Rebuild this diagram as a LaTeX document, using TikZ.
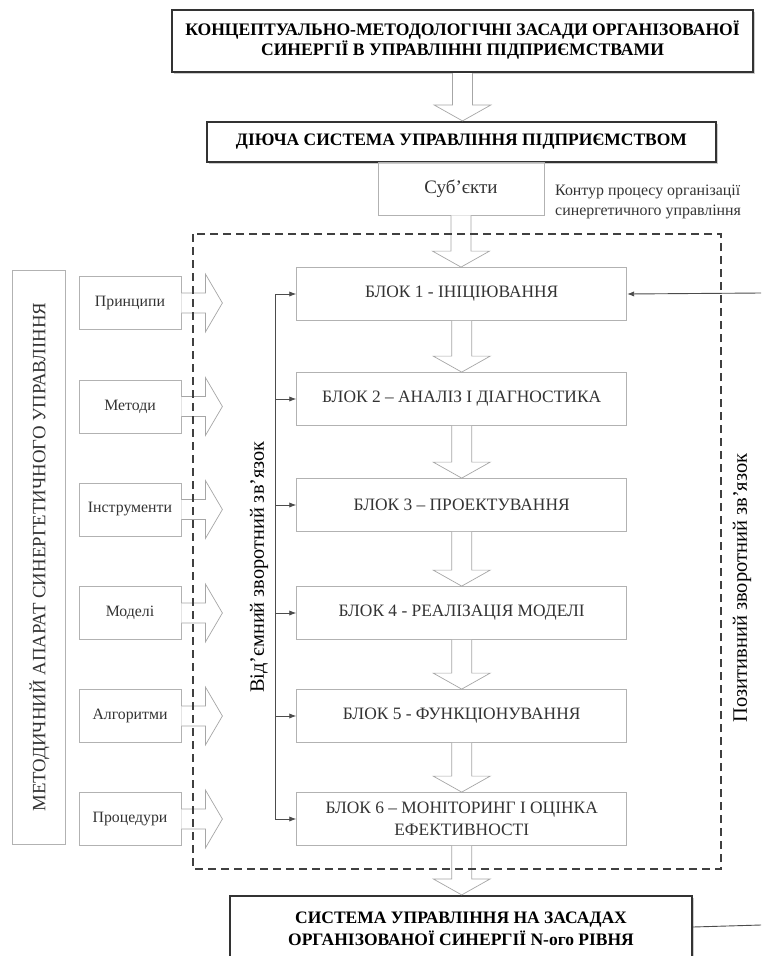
\documentclass[tikz,border=0pt]{standalone}
\usepackage{fontspec}
\setmainfont{Liberation Serif}
\usepackage{xcolor}
\usepackage{tikz}
\usetikzlibrary{arrows.meta,calc,shadows}

% hollow block arrows between boxes
\newcommand{\hdown}[2]{%
  \draw[harrow] let \p1=(#1.south), \p2=(#2.north) in
    (\x1-10pt,\y1) -- (\x1-10pt,\y2+16pt) -- (\x1-28.5pt,\y2+16pt) -- (\x1,\y2)
    -- (\x1+28.5pt,\y2+16pt) -- (\x1+10pt,\y2+16pt) -- (\x1+10pt,\y1);}
\newcommand{\hright}[1]{%
  \draw[harrow] let \p1=(#1.east) in
    (\x1,\y1+10pt) -- (\x1+24pt,\y1+10pt) -- (\x1+24pt,\y1+29pt) -- (\x1+41pt,\y1)
    -- (\x1+24pt,\y1-29pt) -- (\x1+24pt,\y1-10pt) -- (\x1,\y1-10pt);}

\begin{document}
\begin{tikzpicture}[x=1pt,y=-1pt,>=Latex,
  hdr/.style={draw=black!80,line width=2.2pt,fill=white,inner sep=0pt,align=center,
    font=\bfseries\fontsize{17.6}{20.5}\selectfont,
    drop shadow={shadow xshift=2pt,shadow yshift=-2pt,fill=black!20,opacity=1}},
  blk/.style={draw=black!30,line width=0.8pt,fill=white,minimum width=330pt,minimum height=53pt,
    inner sep=0pt,align=center,text=black!80,font=\fontsize{17.4}{22}\selectfont},
  src/.style={draw=black!30,line width=0.8pt,minimum width=102pt,minimum height=53pt,
    inner sep=0pt,text=black!80,font=\fontsize{15.8}{18}\selectfont},
  harrow/.style={draw=black!35,line width=0.7pt,fill=white},
  fb/.style={draw=black!70,line width=0.9pt},
  contour/.style={draw=black!75,line width=1.8pt,dash pattern=on 8pt off 5pt}]
  \useasboundingbox (0,0) rectangle (761,956);

  % top of the scheme
  \node[hdr,minimum width=581pt,minimum height=62pt,text depth=6pt] (cm) at (462.5,41)
    {КОНЦЕПТУАЛЬНО-МЕТОДОЛОГІЧНІ ЗАСАДИ ОРГАНІЗОВАНОЇ\\СИНЕРГІЇ В УПРАВЛІННІ ПІДПРИЄМСТВАМИ};
  \node[hdr,minimum width=509pt,minimum height=40pt,font=\bfseries\fontsize{17.5}{20}\selectfont]
    (ds) at (461.5,142) {ДІЮЧА СИСТЕМА УПРАВЛІННЯ ПІДПРИЄМСТВОМ};
  \node[src,minimum width=166pt,font=\fontsize{19}{20}\selectfont] (sb) at (461,188.5) {Суб’єкти};
  \hdown{cm}{ds}

  % blocks of the process
  \node[blk] (b1) at (461.7,294) {БЛОК 1 - ІНІЦІЮВАННЯ};
  \node[blk] (b2) at (461.7,399) {БЛОК 2 – АНАЛІЗ І ДІАГНОСТИКА};
  \node[blk] (b3) at (461.7,505) {БЛОК 3 – ПРОЕКТУВАННЯ};
  \node[blk] (b4) at (461.7,613) {БЛОК 4 - РЕАЛІЗАЦІЯ МОДЕЛІ};
  \node[blk] (b5) at (461.7,716) {БЛОК 5 - ФУНКЦІОНУВАННЯ};
  \node[blk] (b6) at (461.7,819) {БЛОК 6 – МОНІТОРИНГ І ОЦІНКА\\ЕФЕКТИВНОСТІ};
  \node[hdr,minimum width=462pt,minimum height=66pt,font=\bfseries\fontsize{17.5}{22}\selectfont]
    (ns) at (461,929) {СИСТЕМА УПРАВЛІННЯ НА ЗАСАДАХ\\ОРГАНІЗОВАНОЇ СИНЕРГІЇ N-ого РІВНЯ};
  \hdown{sb}{b1}
  \foreach \i/\j in {b1/b2,b2/b3,b3/b4,b4/b5,b5/b6,b6/ns} {\hdown{\i}{\j}}

  % methodical apparatus
  \node[src,minimum width=574pt,minimum height=53pt,rotate=90,font=\fontsize{18.8}{20}\selectfont]
    (ma) at (39.3,557) {МЕТОДИЧНИЙ АПАРАТ СИНЕРГЕТИЧНОГО УПРАВЛІННЯ};
  \node[src] (m1) at (130,303) {Принципи};
  \node[src] (m2) at (130,406.5) {Методи};
  \node[src] (m3) at (130,509.5) {Інструменти};
  \node[src] (m4) at (130,613) {Моделі};
  \node[src] (m5) at (130,716) {Алгоритми};
  \node[src] (m6) at (130,819) {Процедури};
  \foreach \i in {1,...,6} {\hright{m\i}}

  % contour of the process
  \draw[contour] (193,234) rectangle (721,869);
  \node[align=left,text=black!80,font=\fontsize{15.9}{20}\selectfont,anchor=west,inner sep=0pt]
    (ct) at (555,202) {Контур процесу організації\\синергетичного управління};

  % negative feedback
  \coordinate (nf) at (275,0);
  \draw[fb] (b1.west -| nf) -- (b6.west -| nf);
  \foreach \i in {1,...,6} {\draw[fb,->] (b\i.west -| nf) -- (b\i.west);}
  \node[rotate=90,font=\fontsize{20.3}{22}\selectfont] (nl) at (259,567) {Від’ємний зворотний зв’язок};

  % positive feedback
  \coordinate (pin) at (761,293);
  \coordinate (pout) at (761,925);
  \draw[fb,->] (pin) -- (b1.east);
  \draw[fb] (ns.east |- 0,927) -- (pout);
  \node[rotate=90,font=\fontsize{20.5}{22}\selectfont] (pl) at (742,588) {Позитивний зворотний зв’язок};
\end{tikzpicture}
\end{document}
